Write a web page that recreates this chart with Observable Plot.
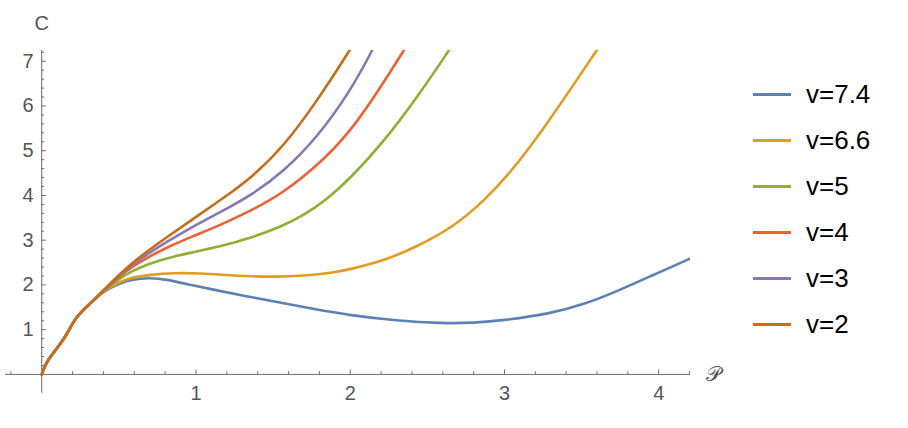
<!DOCTYPE html>
<html><head><meta charset="utf-8">
<script src="https://cdn.jsdelivr.net/npm/d3@7"></script>
<script src="https://cdn.jsdelivr.net/npm/@observablehq/plot@0.6"></script>
<style>
body{margin:0;background:#fff;}
#wrap{position:relative;width:908px;height:428px;font-family:"Liberation Sans",Arial,sans-serif;}
#legend{position:absolute;left:753px;top:0;}
.item{position:absolute;left:0;display:flex;align-items:center;height:30px;}
.sw{width:38px;height:3px;}
.lab{margin-left:15px;font-size:26px;color:#000;white-space:nowrap;}
</style></head>
<body><div id="wrap"><div id="chart"></div><div id="legend"></div></div>
<script>
// ---- data ----
const seriesNames = ["v=7.4", "v=6.6", "v=5", "v=4", "v=3", "v=2"];
const seriesColors = ["#5E81B5", "#E19C24", "#8FB032", "#EB6235", "#8778B3", "#C56E1A"];

// shared initial part of every curve
const trunkX = [0, 0.015, 0.04, 0.08, 0.12, 0.16, 0.2, 0.24, 0.3, 0.36];
const trunkY = [0, 0.15, 0.32, 0.5, 0.68, 0.88, 1.15, 1.34, 1.54, 1.74];

const x74 = [0.42, 0.5, 0.577, 0.7, 0.8, 0.966, 1.16, 1.355, 1.55, 1.75, 2.0, 2.3, 2.6, 2.8, 3.0, 3.3, 3.52, 3.73, 3.95, 4.21];
const y74 = [1.89, 2.03, 2.12, 2.16, 2.13, 2.0, 1.86, 1.73, 1.6, 1.47, 1.32, 1.2, 1.14, 1.15, 1.21, 1.36, 1.57, 1.86, 2.2, 2.6];

const x66 = [0.42, 0.5, 0.577, 0.7, 0.86, 1.03, 1.2, 1.355, 1.5, 1.7, 1.9, 2.0, 2.218, 2.435, 2.66, 2.866, 3.09, 3.3, 3.515, 3.597, 3.65];
const y66 = [1.9, 2.06, 2.16, 2.23, 2.27, 2.26, 2.22, 2.19, 2.18, 2.2, 2.28, 2.35, 2.54, 2.86, 3.28, 3.86, 4.72, 5.72, 6.82, 7.24, 7.5];

const x5 = [0.42, 0.5, 0.577, 0.7, 0.8, 0.966, 1.16, 1.355, 1.55, 1.7, 1.84, 2.0, 2.218, 2.435, 2.64, 2.7];
const y5 = [1.92, 2.13, 2.3, 2.48, 2.59, 2.72, 2.86, 3.05, 3.3, 3.56, 3.89, 4.38, 5.2, 6.2, 7.24, 7.56];

const x4 = [0.42, 0.5, 0.577, 0.7, 0.8, 0.966, 1.16, 1.355, 1.549, 1.787, 2.0, 2.18, 2.348, 2.4];
const y4 = [1.93, 2.18, 2.39, 2.64, 2.82, 3.07, 3.34, 3.66, 4.02, 4.66, 5.42, 6.33, 7.24, 7.55];

const x3 = [0.42, 0.5, 0.577, 0.7, 0.8, 0.966, 1.16, 1.366, 1.57, 1.787, 2.0, 2.143, 2.2];
const y3 = [1.93, 2.2, 2.43, 2.72, 2.94, 3.28, 3.63, 4.02, 4.54, 5.3, 6.33, 7.24, 7.65];

const x2 = [0.42, 0.5, 0.577, 0.7, 0.8, 0.966, 1.16, 1.355, 1.57, 1.787, 1.996, 2.05];
const y2 = [1.95, 2.22, 2.47, 2.79, 3.04, 3.44, 3.9, 4.38, 5.1, 6.12, 7.24, 7.55];

const seriesX = [x74, x66, x5, x4, x3, x2];
const seriesY = [y74, y66, y5, y4, y3, y2];

const xTicks = [1, 2, 3, 4];
const yTicks = [1, 2, 3, 4, 5, 6, 7];
const xMinorTicks = [-0.2, 0.2, 0.4, 0.6, 0.8, 1.2, 1.4, 1.6, 1.8, 2.2, 2.4, 2.6, 2.8, 3.2, 3.4, 3.6, 3.8, 4.2];
const yMinorTicks = [0.2, 0.4, 0.6, 0.8, 1.2, 1.4, 1.6, 1.8, 2.2, 2.4, 2.6, 2.8, 3.2, 3.4, 3.6, 3.8, 4.2, 4.4, 4.6, 4.8, 5.2, 5.4, 5.6, 5.8, 6.2, 6.4, 6.6, 6.8, 7.2];
const xDomain = [-0.235, 4.206];
const yDomain = [-0.42, 7.24];
const xLabel = "𝒫";
const yLabel = "C";

// ---- build table ----
const rows = [];
seriesNames.forEach((name, k) => {
  trunkX.forEach((x, i) => rows.push({series: name, x, y: trunkY[i]}));
  seriesX[k].forEach((x, i) => rows.push({series: name, x, y: seriesY[k][i]}));
});

const axisColor = "#6b6b6b";
const labelColor = "#555";

const lineMarks = seriesNames.map((name, k) =>
  Plot.line(rows.filter(r => r.series === name), {
    x: "x", y: "y", stroke: seriesColors[k], strokeWidth: 2.6,
    curve: "basis", clip: true
  })
);

const chart = Plot.plot({
  width: 730, height: 428,
  marginLeft: 5, marginRight: 40, marginTop: 50, marginBottom: 35.3,
  x: {domain: xDomain, axis: null},
  y: {domain: yDomain, axis: null},
  style: {fontFamily: "'Liberation Sans', Arial, sans-serif", background: "#fff"},
  marks: [
    Plot.ruleY([0], {x1: xDomain[0], x2: xDomain[1], stroke: axisColor, strokeWidth: 1}),
    Plot.ruleX([0], {y1: yDomain[0], y2: yDomain[1], stroke: axisColor, strokeWidth: 1}),
    Plot.ruleX(xTicks, {x: d => d, y1: 0, y2: 0, insetTop: -4.5, stroke: axisColor}),
    Plot.ruleX(xMinorTicks, {x: d => d, y1: 0, y2: 0, insetTop: -2.7, stroke: axisColor}),
    Plot.ruleY(yTicks, {y: d => d, x1: 0, x2: 0, insetRight: -4.5, stroke: axisColor}),
    Plot.ruleY(yMinorTicks, {y: d => d, x1: 0, x2: 0, insetRight: -2.7, stroke: axisColor}),
    Plot.text(xTicks, {x: d => d, y: 0, text: d => String(d), lineAnchor: "top", dy: 11, fontSize: 20, fill: labelColor}),
    Plot.text(yTicks, {x: 0, y: d => d, text: d => String(d), textAnchor: "end", dx: -8, fontSize: 20, fill: labelColor}),
    Plot.text([yLabel], {x: 0, y: yDomain[1], text: d => d, dy: -27, fontSize: 20, fill: labelColor}),
    Plot.text([xLabel], {x: xDomain[1], y: 0, text: d => d, dx: 23, fontSize: 21, fill: labelColor}),
    ...lineMarks
  ]
});
document.getElementById("chart").appendChild(chart);

// ---- legend ----
const legend = document.getElementById("legend");
seriesNames.forEach((name, k) => {
  const item = document.createElement("div");
  item.className = "item";
  item.style.top = (94 + 46 * k - 15) + "px";
  const sw = document.createElement("div");
  sw.className = "sw";
  sw.style.background = seriesColors[k];
  const lab = document.createElement("span");
  lab.className = "lab";
  lab.textContent = name;
  item.appendChild(sw);
  item.appendChild(lab);
  legend.appendChild(item);
});
</script>
</body></html>
